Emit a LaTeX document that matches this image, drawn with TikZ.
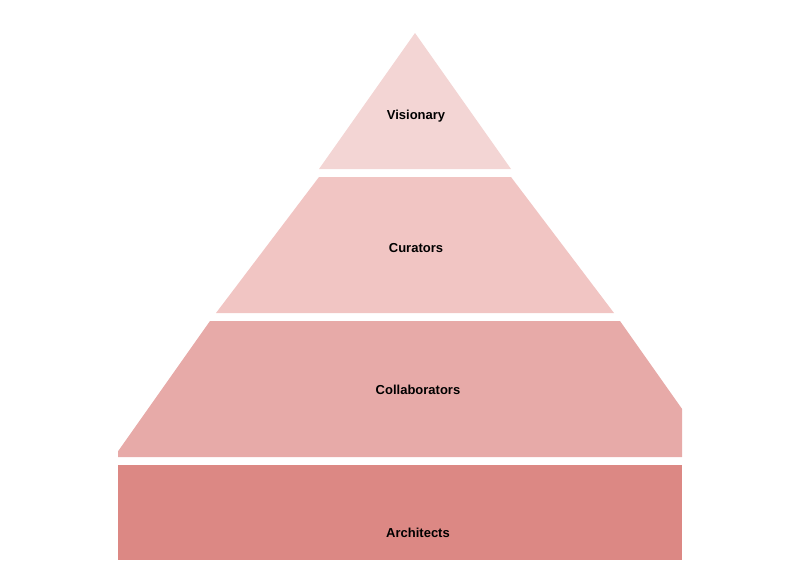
\documentclass[tikz,border=0pt]{standalone}
\usepackage{fontspec}
\setmainfont{Liberation Sans}
\definecolor{tA}{HTML}{F3D5D4}
\definecolor{tB}{HTML}{F1C5C3}
\definecolor{tC}{HTML}{E7AAA8}
\definecolor{tD}{HTML}{DC8884}
\begin{document}
\begin{tikzpicture}[x=1pt,y=-1pt,lbl/.style={font=\bfseries\fontsize{13}{15}\selectfont,text=black}]
\useasboundingbox (0,0) rectangle (800,560);
\begin{scope}
\clip (118,0) rectangle (682,560);
\fill[tA] (415,33) -- (511,169) -- (319,169) -- cycle;
\fill[tB] (319,177) -- (511,177) -- (614,313) -- (216,313) -- cycle;
\fill[tC] (210,321) -- (620,321) -- (716,457) -- (114,457) -- cycle;
\fill[tD] (118,465) rectangle (682,560);
\end{scope}
\node[lbl] (v) at (416,116) {Visionary};
\node[lbl] (cu) at (416,248) {Curators};
\node[lbl] (co) at (418,390) {Collaborators};
\node[lbl] (ar) at (418,533) {Architects};
\end{tikzpicture}
\end{document}
